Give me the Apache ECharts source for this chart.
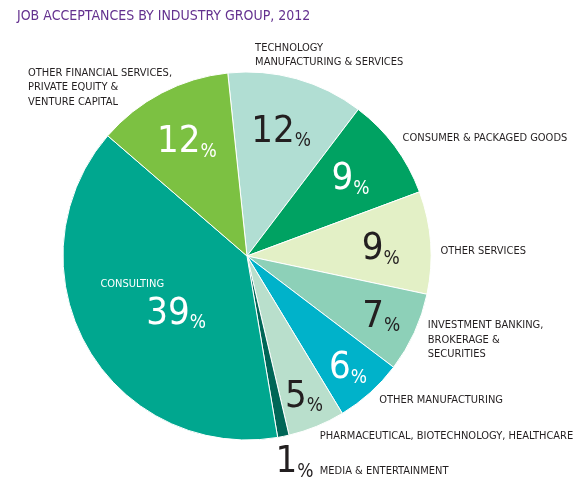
<!DOCTYPE html>
<html>
<head>
<meta charset="utf-8">
<script src="https://cdn.jsdelivr.net/npm/echarts@6/dist/echarts.min.js"></script>
<style>html,body{margin:0;padding:0;background:#fff;}#c{width:580px;height:503px;}</style>
</head>
<body>
<div id="c"></div>
<script>
// ---- data ----
var categories = [
  'TECHNOLOGY\nMANUFACTURING & SERVICES',
  'CONSUMER & PACKAGED GOODS',
  'OTHER SERVICES',
  'INVESTMENT BANKING,\nBROKERAGE &\nSECURITIES',
  'OTHER MANUFACTURING',
  'PHARMACEUTICAL, BIOTECHNOLOGY, HEALTHCARE',
  'MEDIA & ENTERTAINMENT',
  'CONSULTING',
  'OTHER FINANCIAL SERVICES,\nPRIVATE EQUITY &\nVENTURE CAPITAL'
];
var values = [12, 9, 9, 7, 6, 5, 1, 39, 12];
var titleText = 'JOB ACCEPTANCES BY INDUSTRY GROUP, 2012';

// ---- styles ----
var sliceColors = ['#b1ded3', '#00a262', '#e3f0c6', '#8dd0b8', '#00b2ca', '#b9dfcc', '#006657', '#00a78f', '#7cc142'];
var pctColors = ['#231f20', '#ffffff', '#231f20', '#231f20', '#ffffff', '#231f20', '#231f20', '#ffffff', '#ffffff'];
var ringA = [0, 1, 2, 8];   // label ring near 0.71 r
var ringB = [3, 4, 5];      // label ring near 0.8 r
var FONT = "'Liberation Sans Narrow','DejaVu Sans Condensed',sans-serif";
var CENTER = [247, 256];
var R = 184;
var NUM = 38, PCT = 19;
// label nudges (px) for the outer name labels, by index: [dx, dy, align]
var nameNudge = {
  0: [-52, -18], 1: [-6, -5], 2: [-5, 9], 3: [-1, 5], 4: [-4, 3], 5: [-8, 4], 6: [-18, 20],
  7: [12, 1], 8: [-122, 0, 'left']
};
// label nudges for the percentage labels
var pctNudge = {0: [-2, 5], 1: [-4, 3], 2: [0, 3], 3: [-3, -2], 4: [0, 0], 5: [0, 1], 8: [2, 5]};

function richWith(color) {
  return {
    v: {fontFamily: FONT, fontSize: NUM, lineHeight: NUM, color: color, verticalAlign: 'bottom'},
    p: {fontFamily: FONT, fontSize: PCT, lineHeight: 32, color: color, verticalAlign: 'bottom'},
    n: {fontFamily: FONT, fontSize: 11, lineHeight: 20, color: color, padding: [0, 88, 0, 0]},
    t: {fontFamily: FONT, fontSize: 11, lineHeight: 13, color: '#231f20', verticalAlign: 'bottom', padding: [0, 0, 5, 0]}
  };
}

var mainData = categories.map(function (c, i) {
  var item = {name: c, value: values[i], itemStyle: {color: sliceColors[i]}};
  if (i === 7) {
    item.label = {
      position: 'inside',
      formatter: function (p) { return '{n|' + p.name + '}\n{v|' + p.value + '}{p|%}'; },
      rich: richWith('#ffffff')
    };
  } else if (i === 6) {
    item.label = {
      formatter: function (p) { return '{v|' + p.value + '}{p|%}{t|  ' + p.name + '}'; },
      rich: richWith('#231f20')
    };
  }
  return item;
});

function ringData(idxs) {
  return categories.map(function (c, i) {
    var on = idxs.indexOf(i) >= 0;
    return {
      name: c, value: values[i],
      itemStyle: {color: 'rgba(0,0,0,0)'},
      label: {show: on, color: pctColors[i], rich: richWith(pctColors[i])}
    };
  });
}

var ringLabel = {
  show: true, position: 'inside',
  formatter: function (p) { return '{v|' + p.value + '}{p|%}'; }
};
function nudge(table) {
  return function (p) {
    var n = table[p.dataIndex];
    if (!n) return {};
    var o = {dx: n[0], dy: n[1]};
    if (n[2]) o.align = n[2];
    return o;
  };
}

var chart = echarts.init(document.getElementById('c'), null, {renderer: 'canvas'});
chart.setOption({
  animation: false,
  title: {
    text: titleText, left: 12, top: 4,
    textStyle: {fontFamily: FONT, fontSize: 14, fontWeight: 'normal', color: '#64318f'}
  },
  series: [
    {
      type: 'pie', center: CENTER, radius: [0, R], startAngle: 96, clockwise: true,
      silent: true, avoidLabelOverlap: false,
      itemStyle: {borderColor: '#ffffff', borderWidth: 1},
      label: {
        show: true, position: 'outside', color: '#231f20',
        fontFamily: FONT, fontSize: 11, lineHeight: 14.5,
        formatter: '{b}'
      },
      labelLine: {show: false, length: 6, length2: 4},
      labelLayout: nudge(nameNudge),
      data: mainData
    },
    {
      type: 'pie', center: CENTER, radius: [108, 154], startAngle: 96, clockwise: true,
      silent: true, avoidLabelOverlap: false, z: 3,
      label: ringLabel, labelLine: {show: false},
      labelLayout: nudge(pctNudge),
      data: ringData(ringA)
    },
    {
      type: 'pie', center: CENTER, radius: [125, 171], startAngle: 96, clockwise: true,
      silent: true, avoidLabelOverlap: false, z: 3,
      label: ringLabel, labelLine: {show: false},
      labelLayout: nudge(pctNudge),
      data: ringData(ringB)
    }
  ]
});
</script>
</body>
</html>
